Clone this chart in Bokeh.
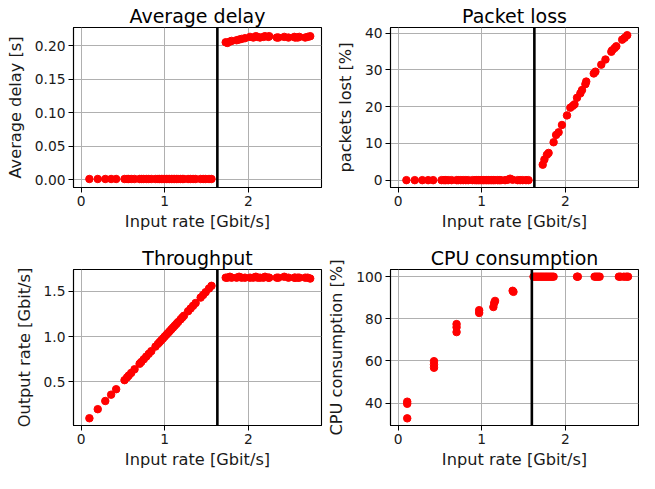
from bokeh.plotting import figure
from bokeh.models import Span, FixedTicker, NumeralTickFormatter, Range1d, AllLabels
from bokeh.layouts import gridplot
from bokeh.embed import file_html
from bokeh.resources import INLINE

# ---------------- data ----------------
# input rates below / above saturation (shared by delay, loss, throughput)
rate_low = [0.10, 0.20, 0.29, 0.36, 0.42, 0.52, 0.55, 0.57, 0.60, 0.64, 0.70, 0.72,
            0.75, 0.78, 0.81, 0.84, 0.89, 0.92, 0.94, 0.96, 0.98, 1.00, 1.02, 1.04,
            1.06, 1.08, 1.10, 1.12, 1.14, 1.16, 1.19, 1.21, 1.23, 1.28, 1.31, 1.34,
            1.37, 1.43, 1.46, 1.49, 1.53, 1.56]
rate_high = [1.73, 1.75, 1.78, 1.80, 1.86, 1.89, 1.92, 1.96, 2.02, 2.06, 2.09, 2.11,
             2.14, 2.18, 2.20, 2.24, 2.25, 2.34, 2.36, 2.43, 2.48, 2.55, 2.56, 2.59,
             2.61, 2.68, 2.71, 2.74]
delay_low = [0.001] * 42
delay_high = [0.205, 0.204, 0.206, 0.207, 0.208, 0.209, 0.210, 0.211, 0.213, 0.212,
              0.214, 0.213, 0.212, 0.213, 0.214, 0.213, 0.214, 0.212, 0.212, 0.213,
              0.212, 0.213, 0.212, 0.212, 0.213, 0.212, 0.213, 0.214]
loss_low = [0] * 34 + [0.1, 0.4, 0.1, 0, 0, 0, 0, 0]
loss_high = [4.2, 5.6, 6.9, 7.4, 10.3, 12.3, 13.0, 15.0, 17.6, 19.7, 20.2, 20.6, 22.4,
             23.6, 24.5, 26.1, 26.8, 29.0, 29.5, 31.4, 32.8, 34.9, 35.3, 35.9, 36.4,
             38.2, 38.7, 39.4]
thr_low = [0.10, 0.20, 0.29, 0.36, 0.42, 0.52, 0.55, 0.57, 0.60, 0.64, 0.70, 0.72,
           0.75, 0.78, 0.81, 0.84, 0.89, 0.92, 0.94, 0.96, 0.98, 1.00, 1.02, 1.04,
           1.06, 1.08, 1.10, 1.12, 1.14, 1.16, 1.19, 1.21, 1.23, 1.28, 1.31, 1.34,
           1.37, 1.43, 1.46, 1.49, 1.53, 1.56]
thr_high = [1.65, 1.65, 1.66, 1.65, 1.65, 1.66, 1.65, 1.65, 1.65, 1.65, 1.66, 1.65,
            1.65, 1.65, 1.66, 1.65, 1.65, 1.65, 1.65, 1.66, 1.65, 1.65, 1.65, 1.65,
            1.65, 1.65, 1.65, 1.64]
cpu_rate = [0.11, 0.11, 0.11, 0.43, 0.43, 0.43, 0.70, 0.70, 0.70, 0.97, 0.97,
            1.14, 1.15, 1.16, 1.37, 1.38,
            1.62, 1.64, 1.66, 1.68, 1.70, 1.72, 1.74, 1.76, 1.78, 1.80, 1.82, 1.84,
            1.86, 2.14, 2.15, 2.35, 2.37, 2.39, 2.41, 2.64, 2.66, 2.70, 2.73, 2.75]
cpu_load = [40.7, 39.7, 32.8, 59.9, 58.3, 56.8, 77.5, 76.0, 73.7, 84.1, 82.8,
            85.6, 87.5, 88.5, 93.3, 92.8] + [100] * 24

saturation = 1.63
saturation_cpu = 1.60
x_ticks = [0, 1, 2]
delay_ticks = [0.0, 0.05, 0.10, 0.15, 0.20]
loss_ticks = [0, 10, 20, 30, 40]
thr_ticks = [0.5, 1.0, 1.5]
cpu_ticks = [40, 60, 80, 100]

FONT = "DejaVu Sans"


def make(title, ylabel, fw, fh, left, right, top, bottom, xr, yr, yticks, yfmt):
    p = figure(frame_width=fw, frame_height=fh, x_range=Range1d(*xr), y_range=Range1d(*yr),
               output_backend="svg", toolbar_location=None,
               min_border_left=left, min_border_right=right,
               min_border_top=top, min_border_bottom=bottom, title=title)
    p.title.text_font = FONT
    p.title.text_font_size = "19px"
    p.title.text_font_style = "normal"
    p.title.align = "center"
    p.title.standoff = 1
    p.title.offset = 0
    p.title.text_color = "black"
    p.background_fill_color = "white"
    p.border_fill_color = "white"
    p.outline_line_color = "black"
    p.outline_line_width = 1.1
    for ax in (p.xaxis, p.yaxis):
        ax.axis_line_color = "black"
        ax.axis_line_width = 1.1
        ax.major_tick_line_color = "black"
        ax.major_tick_out = 5
        ax.major_tick_in = 0
        ax.minor_tick_line_color = None
        ax.major_label_text_font = FONT
        ax.major_label_text_font_size = "13.8px"
        ax.major_label_text_color = "#1a1a1a"
        ax.major_label_standoff = 3
        ax.major_label_policy = AllLabels()
        ax.axis_label_text_font = FONT
        ax.axis_label_text_font_size = "16.2px"
        ax.axis_label_text_font_style = "normal"
        ax.axis_label_text_color = "#1a1a1a"
    p.xaxis.axis_label_standoff = 3
    p.yaxis.axis_label_standoff = 7
    p.xaxis.ticker = FixedTicker(ticks=x_ticks)
    p.xaxis.formatter = NumeralTickFormatter(format="0")
    p.yaxis.ticker = FixedTicker(ticks=yticks)
    p.yaxis.formatter = NumeralTickFormatter(format=yfmt)
    p.xaxis.axis_label = "Input rate [Gbit/s]"
    p.yaxis.axis_label = ylabel
    for g in (p.xgrid, p.ygrid):
        g.grid_line_color = "#b0b0b0"
        g.grid_line_width = 1.0
    return p


XR = (-0.09, 2.875)
CPU_YR = (29.4, 103.4)
FW = 248

p1 = make("Average delay", "Average delay [s]", FW, 160, 73, 3, 27, 55,
          XR, (-0.0117, 0.227), delay_ticks, "0.00")
p1.scatter(rate_low, delay_low, size=7.5, color="red")
p1.scatter(rate_high, delay_high, size=7.5, color="red")
p1.add_layout(Span(location=saturation, dimension="height", line_color="black", line_width=2.6))

p2 = make("Packet loss", "packets lost [%]", FW, 160, 66, 1, 27, 55,
          XR, (-2.0, 41.5), loss_ticks, "0")
p2.scatter(rate_low, loss_low, size=7.5, color="red")
p2.scatter(rate_high, loss_high, size=7.5, color="red")
p2.add_layout(Span(location=saturation, dimension="height", line_color="black", line_width=2.6))

p3 = make("Throughput", "Output rate [Gbit/s]", FW, 156, 73, 3, 27, 48,
          XR, (0.02, 1.74), thr_ticks, "0.0")
p3.scatter(rate_low, thr_low, size=7.5, color="red")
p3.scatter(rate_high, thr_high, size=7.5, color="red")
p3.add_layout(Span(location=saturation, dimension="height", line_color="black", line_width=2.6))

p4 = make("CPU consumption", "CPU consumption [%]", FW, 156, 66, 1, 27, 48,
          XR, CPU_YR, cpu_ticks, "0")
p4.scatter(cpu_rate, cpu_load, size=7.5, color="red")
p4.add_layout(Span(location=saturation_cpu, dimension="height", line_color="black", line_width=2.6))

layout = gridplot([[p1, p2], [p3, p4]], toolbar_location=None)
open("out.html", "w").write(file_html(layout, INLINE))
